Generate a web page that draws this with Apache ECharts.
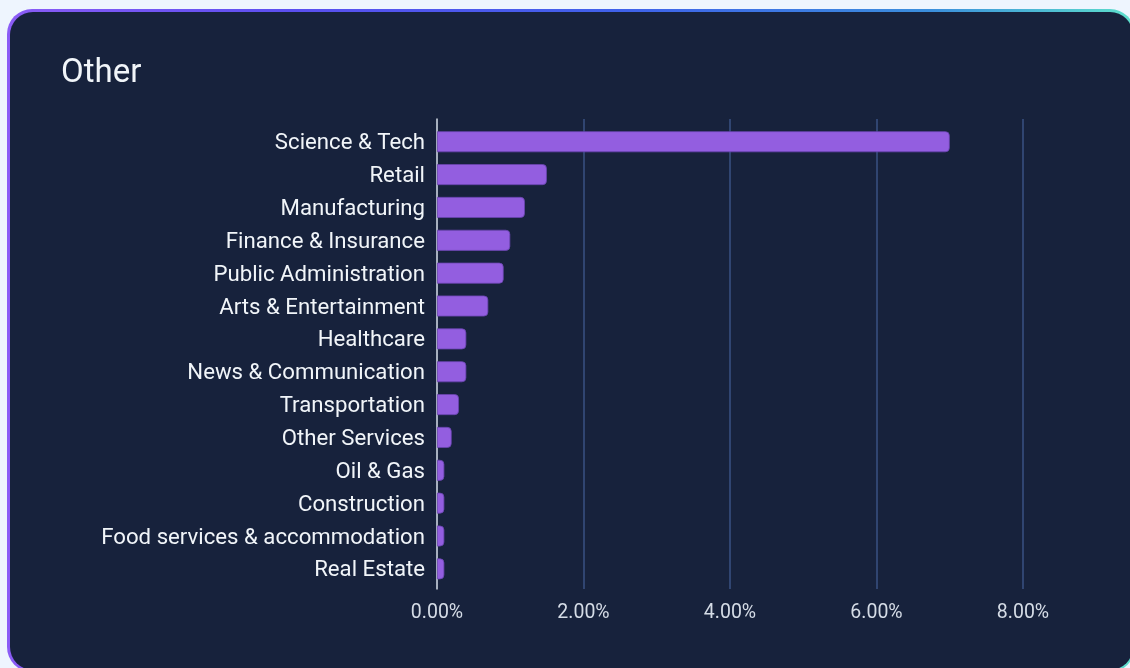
<!DOCTYPE html>
<html>
<head>
<meta charset="utf-8">
<script src="https://cdn.jsdelivr.net/npm/echarts@6/dist/echarts.min.js"></script>
<style>
  html, body { margin: 0; padding: 0; width: 1130px; height: 668px; overflow: hidden; background: #eef5fe; font-family: Roboto, sans-serif; }
  #card { position: absolute; left: 7px; top: 9px; width: 1128px; height: 663px; border-radius: 25px;
          background: linear-gradient(90deg, #8b5cf6 0%, #5b4ff0 25%, #3f62ea 55%, #3b8fdc 82%, #5ee0cc 100%); }
  #inner { position: absolute; left: 2.5px; top: 2.5px; right: 2.5px; bottom: 2.5px; border-radius: 23px; background: #17223c; }
  #chart { position: absolute; left: 0; top: 0; width: 1130px; height: 668px; }
</style>
</head>
<body>
<div id="card"><div id="inner"></div></div>
<div id="chart"></div>
<script>
const categories = [
  "Science & Tech", "Retail", "Manufacturing", "Finance & Insurance",
  "Public Administration", "Arts & Entertainment", "Healthcare",
  "News & Communication", "Transportation", "Other Services",
  "Oil & Gas", "Construction", "Food services & accommodation", "Real Estate"
];
const values = [7.0, 1.5, 1.2, 1.0, 0.91, 0.7, 0.4, 0.4, 0.3, 0.2, 0.1, 0.1, 0.1, 0.1];
const xTicks = [0, 2, 4, 6, 8];
const titleText = "Other";

const chart = echarts.init(document.getElementById('chart'), null, { renderer: 'canvas' });
const font = 'Roboto';
chart.setOption({
  backgroundColor: 'transparent',
  animation: false,
  title: {
    text: titleText, left: 61, top: 57, padding: 0,
    textStyle: { color: '#f1f5f9', fontSize: 33, fontWeight: 'normal', fontFamily: font }
  },
  grid: [
    { left: 437, right: 107, top: 119, bottom: 79 },
    { left: 437, right: 107, top: 125.3, bottom: 82.7 }
  ],
  xAxis: [
    {
      gridIndex: 0, type: 'value', min: xTicks[0], max: xTicks[xTicks.length - 1], interval: 2,
      axisLine: { show: false }, axisTick: { show: false },
      splitLine: { show: true, lineStyle: { color: '#3a5283', width: 1.5 } },
      axisLabel: {
        color: '#d5dce6', fontSize: 19.5, fontFamily: font, margin: 14,
        formatter: v => v.toFixed(2) + '%'
      }
    },
    {
      gridIndex: 1, type: 'value', min: xTicks[0], max: xTicks[xTicks.length - 1],
      show: false
    }
  ],
  yAxis: [
    {
      gridIndex: 0, type: 'value', min: 0, max: 1,
      axisLine: { show: true, lineStyle: { color: '#d1d5db', width: 1.5 } },
      axisTick: { show: false }, axisLabel: { show: false }, splitLine: { show: false }
    },
    {
      gridIndex: 1, type: 'category', data: categories, inverse: true,
      axisLine: { show: false }, axisTick: { show: false },
      axisLabel: {
        margin: 12,
        formatter: v => '{a|' + v + '}',
        rich: { a: { color: '#f1f5f9', fontSize: 22.2, fontFamily: font, padding: [4, 0, 0, 0] } }
      }
    }
  ],
  series: [{
    type: 'bar', xAxisIndex: 1, yAxisIndex: 1,
    data: values, barWidth: 21,
    itemStyle: { color: '#935ee0', borderColor: '#6a45b0', borderWidth: 0.8, borderRadius: [0, 4, 4, 0] }
  }]
});
</script>
</body>
</html>
